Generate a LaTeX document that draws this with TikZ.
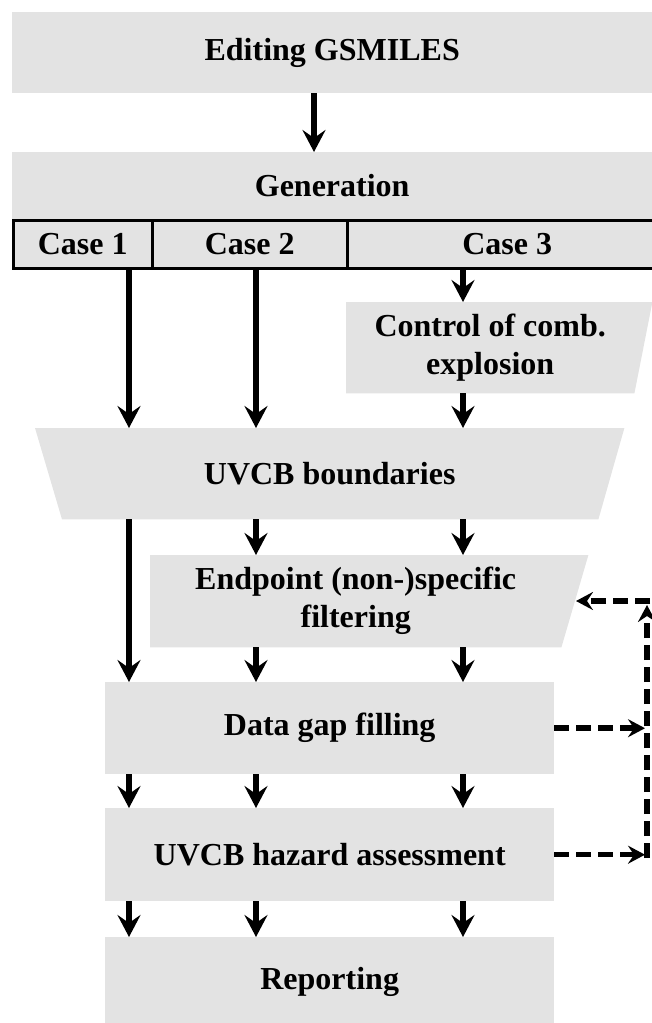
\documentclass[tikz,border=0pt]{standalone}
\usepackage{fontspec}
\setmainfont{Liberation Serif}
\usetikzlibrary{arrows.meta,backgrounds}
\definecolor{boxgray}{RGB}{227,227,227}
\begin{document}
\begin{tikzpicture}[x=1pt,y=-1pt,
  box/.style={rectangle, inner sep=0pt, anchor=north west, font=\bfseries\fontsize{32}{38}\selectfont, align=center},
  arr/.style={line width=6.5pt, -{Stealth[length=22pt,width=23pt,inset=8pt]}},
  darr/.style={line width=5.5pt, dash pattern=on 15pt off 7pt, -{Stealth[length=17pt,width=18pt,inset=6pt]}},
]
\useasboundingbox (0,0) rectangle (652,1023);

% boxes
\node[box, fill=boxgray, minimum width=640pt, minimum height=81pt] (edit) at (12,12) {Editing GSMILES};
\node[box, fill=boxgray, minimum width=640pt, minimum height=67pt] (gen) at (12,152) {Generation};
\node[box, fill=boxgray, draw, line width=2.5pt, minimum width=139pt, minimum height=48pt] (case1) at (12,219) {Case 1};
\node[box, fill=boxgray, draw, line width=2.5pt, minimum width=195pt, minimum height=48pt] (case2) at (151,219) {Case 2};
\node[box, fill=boxgray, draw, line width=2.5pt, minimum width=320pt, minimum height=48pt] (case3) at (346,219) {Case 3};
\node[box, minimum width=288pt, minimum height=91pt] (ctrl) at (346,302) {Control of comb.\\explosion};
\node[box, minimum width=589pt, minimum height=91pt] (uvcb) at (35,428) {UVCB boundaries};
\node[box, minimum width=411pt, minimum height=92pt] (endp) at (150,555) {Endpoint (non-)specific\\filtering};
\node[box, fill=boxgray, minimum width=449pt, minimum height=92pt] (data) at (105,682) {Data gap filling};
\node[box, fill=boxgray, minimum width=449pt, minimum height=93pt] (haz) at (105,808) {UVCB hazard assessment};
\node[box, fill=boxgray, minimum width=449pt, minimum height=90pt] (rep) at (105,937) {Reporting};

\begin{scope}[on background layer]
\fill[boxgray] (ctrl.north west) -- ([xshift=18pt]ctrl.north east) -- (ctrl.south east) -- (ctrl.south west) -- cycle;
\fill[boxgray] (uvcb.north west) -- (uvcb.north east) -- ([xshift=-26pt]uvcb.south east) -- ([xshift=27pt]uvcb.south west) -- cycle;
\fill[boxgray] (endp.north west) -- ([xshift=27pt]endp.north east) -- (endp.south east) -- (endp.south west) -- cycle;
\end{scope}

% column positions
\coordinate (a0) at (314,0);
\coordinate (c1) at (129,0);
\coordinate (c2) at (256,0);
\coordinate (c3) at (463,0);
\coordinate (fbin) at (645,0);
\coordinate (fbbot) at (647,858);
\coordinate (fbtop) at (647,605);
\coordinate (fbcorner) at (650,601);
\coordinate (endpin) at (576,601);

% solid arrows
\draw[arr] (edit.south -| a0) -- (gen.north -| a0);
\draw[arr] (case1.south -| c1) -- (uvcb.north -| c1);
\draw[arr] (case2.south -| c2) -- (uvcb.north -| c2);
\draw[arr] (case3.south -| c3) -- (ctrl.north -| c3);
\draw[arr] (ctrl.south -| c3) -- (uvcb.north -| c3);
\draw[arr] (uvcb.south -| c1) -- (data.north -| c1);
\draw[arr] (uvcb.south -| c2) -- (endp.north -| c2);
\draw[arr] (uvcb.south -| c3) -- (endp.north -| c3);
\draw[arr] (endp.south -| c2) -- (data.north -| c2);
\draw[arr] (endp.south -| c3) -- (data.north -| c3);
\foreach \c in {c1,c2,c3}{
  \draw[arr] (data.south -| \c) -- (haz.north -| \c);
  \draw[arr] (haz.south -| \c) -- (rep.north -| \c);
}

% dashed feedback
\draw[darr] (data.east) -- (data.east -| fbin);
\draw[darr] (haz.east) -- (haz.east -| fbin);
\draw[darr] (fbbot) -- (fbtop);
\draw[darr] (fbcorner) -- (endpin);
\end{tikzpicture}
\end{document}
